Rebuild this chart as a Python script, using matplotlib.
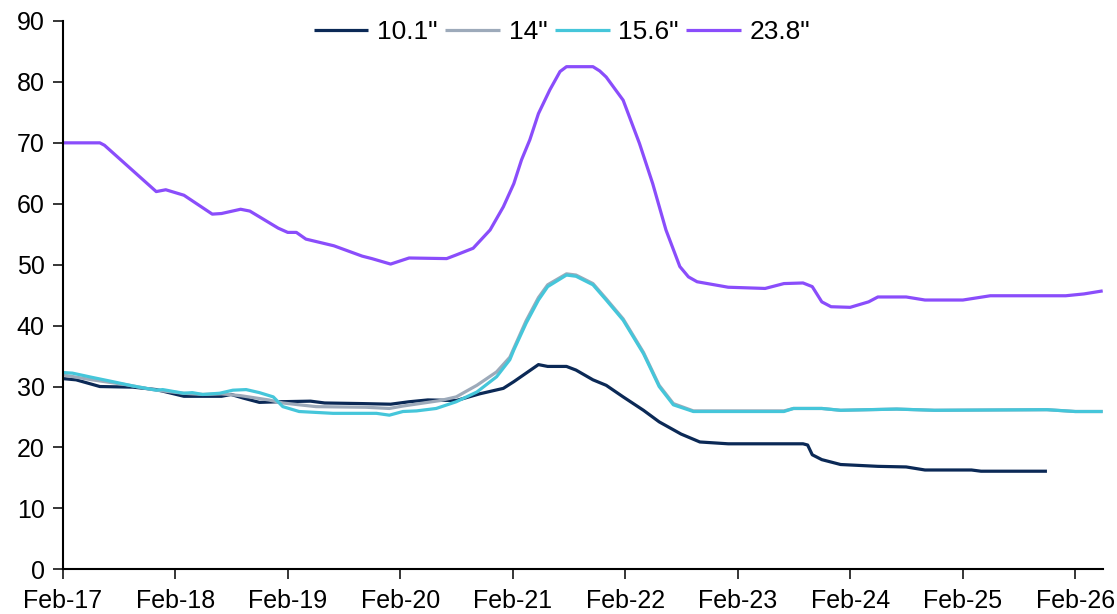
import matplotlib
matplotlib.use("Agg")
import matplotlib.pyplot as plt
import matplotlib.dates as mdates
import pandas as pd

#========================= data =======================

# 10.1"
DATES_101 = ["2017-02-01", "2017-03-16", "2017-06-01", "2017-09-16", "2017-12-01", "2018-03-01",
             "2018-07-01", "2018-08-01", "2018-09-10", "2018-11-01", "2019-01-01", "2019-04-16",
             "2019-06-01", "2019-10-01", "2020-01-01", "2020-03-01", "2020-05-01", "2020-08-01",
             "2020-10-16", "2021-01-01", "2021-02-04", "2021-03-16", "2021-04-25", "2021-05-25",
             "2021-07-25", "2021-08-25", "2021-10-19", "2021-12-01", "2022-01-25", "2022-04-01",
             "2022-05-22", "2022-08-01", "2022-10-01", "2023-01-01", "2023-09-01", "2023-09-16",
             "2023-10-01", "2023-11-01", "2024-01-01", "2024-05-01", "2024-08-01", "2024-10-01",
             "2025-03-01", "2025-04-01", "2025-11-01"]
VALUES_101 = [31.3, 31.1, 30.0, 29.9, 29.5, 28.4,
              28.4, 28.7, 28.1, 27.4, 27.5, 27.6,
              27.3, 27.2, 27.1, 27.5, 27.8, 27.7,
              28.8, 29.7, 30.8, 32.2, 33.6, 33.3,
              33.3, 32.7, 31.1, 30.2, 28.3, 26.1,
              24.2, 22.2, 20.9, 20.6, 20.6, 20.4,
              18.8, 18.0, 17.2, 16.9, 16.8, 16.3,
              16.3, 16.1, 16.1]

# 14"
DATES_14 = ["2017-02-01", "2017-05-07", "2017-08-25", "2017-12-01", "2018-02-28", "2018-05-01",
            "2018-07-01", "2018-09-01", "2018-12-01", "2019-01-16", "2019-05-04", "2019-10-13",
            "2019-12-28", "2020-02-10", "2020-06-10", "2020-08-01", "2020-10-07", "2020-12-10",
            "2021-01-22", "2021-03-16", "2021-04-25", "2021-05-25", "2021-07-25", "2021-08-25",
            "2021-10-19", "2021-12-01", "2022-01-25", "2022-04-01", "2022-05-22", "2022-07-07",
            "2022-09-10", "2023-07-01", "2023-08-01", "2023-11-01", "2024-01-01", "2024-07-01",
            "2024-11-01", "2025-11-01", "2026-02-01", "2026-05-01"]
VALUES_14 = [31.9, 31.1, 30.3, 29.4, 28.9, 28.7,
             28.8, 28.5, 27.8, 27.3, 26.7, 26.6,
             26.4, 26.8, 27.7, 28.3, 30.2, 32.4,
             34.8, 40.8, 44.6, 46.7, 48.5, 48.3,
             46.9, 44.4, 41.1, 35.6, 30.2, 27.2,
             26.0, 26.0, 26.4, 26.4, 26.1, 26.3,
             26.1, 26.2, 25.9, 25.9]

# 15.6"
DATES_156 = ["2017-02-01", "2017-03-04", "2017-05-07", "2017-07-13", "2017-09-16", "2017-12-01",
             "2017-12-22", "2018-02-28", "2018-03-28", "2018-05-01", "2018-06-25", "2018-08-07",
             "2018-09-19", "2018-11-01", "2018-12-16", "2019-01-16", "2019-03-10", "2019-06-28",
             "2019-11-16", "2019-12-28", "2020-02-10", "2020-03-25", "2020-05-28", "2020-08-01",
             "2020-10-07", "2020-12-10", "2021-01-22", "2021-02-04", "2021-03-16", "2021-04-25",
             "2021-05-25", "2021-07-25", "2021-08-25", "2021-10-19", "2021-12-01", "2022-01-25",
             "2022-04-01", "2022-05-22", "2022-07-07", "2022-09-10", "2023-07-01", "2023-08-01",
             "2023-11-01", "2024-01-01", "2024-07-01", "2024-11-01", "2025-11-01", "2026-02-01",
             "2026-05-01"]
VALUES_156 = [32.3, 32.2, 31.5, 30.8, 30.1, 29.4,
              29.5, 28.9, 29.0, 28.7, 28.9, 29.4,
              29.5, 29.0, 28.3, 26.7, 25.9, 25.6,
              25.6, 25.3, 25.9, 26.0, 26.4, 27.5,
              29.1, 31.6, 34.4, 36.0, 40.4, 44.2,
              46.4, 48.3, 48.1, 46.7, 44.2, 40.9,
              35.4, 30.0, 27.0, 25.9, 25.9, 26.4,
              26.4, 26.1, 26.3, 26.1, 26.2, 25.9,
              25.9]

# 23.8"
DATES_238 = ["2017-02-01", "2017-06-01", "2017-06-16", "2017-12-01", "2018-01-01", "2018-03-01",
             "2018-06-01", "2018-07-01", "2018-09-01", "2018-10-01", "2019-01-01", "2019-02-01",
             "2019-03-01", "2019-04-01", "2019-07-01", "2019-10-01", "2019-11-01", "2020-01-01",
             "2020-03-01", "2020-07-01", "2020-08-01", "2020-09-25", "2020-11-19", "2021-01-01",
             "2021-02-04", "2021-03-01", "2021-03-28", "2021-04-25", "2021-06-01", "2021-07-04",
             "2021-07-25", "2021-10-19", "2021-11-10", "2021-12-01", "2022-01-25", "2022-03-19",
             "2022-05-01", "2022-06-13", "2022-07-28", "2022-08-25", "2022-09-22", "2023-01-01",
             "2023-05-01", "2023-07-01", "2023-09-01", "2023-10-01", "2023-11-01", "2023-12-01",
             "2024-02-01", "2024-04-01", "2024-05-01", "2024-08-01", "2024-10-01", "2025-02-01",
             "2025-05-01", "2026-01-01", "2026-03-01", "2026-05-01"]
VALUES_238 = [70.0, 70.0, 69.6, 62.0, 62.3, 61.4,
              58.3, 58.4, 59.1, 58.8, 56.0, 55.3,
              55.3, 54.2, 53.1, 51.4, 51.0, 50.1,
              51.1, 51.0, 51.6, 52.7, 55.7, 59.5,
              63.3, 67.2, 70.5, 74.8, 78.7, 81.7,
              82.5, 82.5, 81.8, 80.8, 77.0, 69.9,
              63.3, 55.7, 49.7, 48.0, 47.2, 46.3,
              46.1, 46.9, 47.0, 46.4, 43.9, 43.1,
              43.0, 43.9, 44.7, 44.7, 44.2, 44.2,
              44.9, 44.9, 45.2, 45.7]

SERIES = [('10.1"', DATES_101, VALUES_101, "#0b2956"),
          ('14"', DATES_14, VALUES_14, "#9daaba"),
          ('15.6"', DATES_156, VALUES_156, "#45c6da"),
          ('23.8"', DATES_238, VALUES_238, "#8a4dfb")]

# 画图
FONT_SIZE = 18
LEGEND_FONT_SIZE = 19
LINE_WIDTH = 2.3

plt.rcParams['font.family'] = ['Liberation Sans', 'DejaVu Sans']
plt.rcParams['font.size'] = FONT_SIZE

fig = plt.figure(figsize=(11.17, 6.14), dpi=100)
ax = fig.add_axes([62.9 / 1117, 1 - 569.3 / 614, (1102.7 - 62.9) / 1117, (569.3 - 21) / 614])

for name, dates, values, color in SERIES:
    ax.plot(pd.to_datetime(dates), values, color=color, linewidth=LINE_WIDTH, label=name,
            solid_joinstyle="round", solid_capstyle="butt")

ax.set_ylim(0, 90)
ax.set_yticks(range(0, 91, 10))
ax.set_xlim(pd.Timestamp("2017-02-01"), pd.Timestamp("2026-05-01"))
ax.set_xticks(pd.to_datetime([f"{y}-02-01" for y in range(2017, 2027)]))
ax.xaxis.set_major_formatter(mdates.DateFormatter("%b-%y"))

for side in ["top", "right"]:
    ax.spines[side].set_visible(False)
for side in ["left", "bottom"]:
    ax.spines[side].set_linewidth(1.5)
ax.tick_params(axis="both", direction="out", length=7.2, width=1.1, labelsize=FONT_SIZE)
ax.tick_params(axis="y", pad=6)
# x 轴标签放低一些，但整体留在图内
ax.tick_params(axis="x", pad=7.0)

# legend 在图上方，无边框
ax.legend(loc="center", bbox_to_anchor=(0.48, 0.98), ncol=4, frameon=False,
          handlelength=2.08, handletextpad=0.33, columnspacing=0.28, fontsize=LEGEND_FONT_SIZE)

fig.savefig("out.png", dpi=100)
